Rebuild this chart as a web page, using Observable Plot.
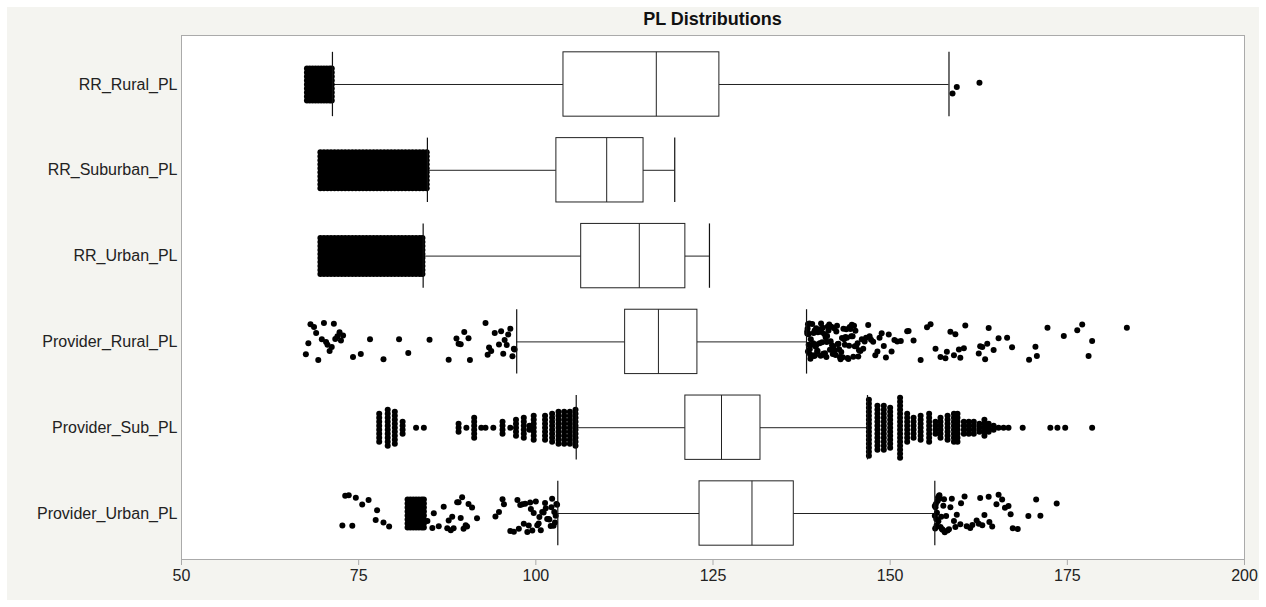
<!DOCTYPE html>
<html><head><meta charset="utf-8">
<script src="https://cdn.jsdelivr.net/npm/d3@7"></script>
<script src="https://cdn.jsdelivr.net/npm/@observablehq/plot@0.6"></script>
<style>
html,body{margin:0;padding:0;background:#fff;width:1266px;height:607px;overflow:hidden;}
#panel{position:absolute;left:7px;top:7px;width:1252px;height:593px;background:#f4f4f0;}
#title{position:absolute;left:181px;top:8px;width:1063px;text-align:center;font:bold 18px "Liberation Sans",Arial,sans-serif;line-height:22px;color:#111;}
#chart{position:absolute;left:0;top:29px;}
</style></head><body>
<div id="panel"></div>
<div id="title">PL Distributions</div>
<div id="chart"></div>
<script>
const categories = ["RR_Rural_PL","RR_Suburban_PL","RR_Urban_PL","Provider_Rural_PL","Provider_Sub_PL","Provider_Urban_PL"];
const lowerWhisker = [71.3, 84.7, 84.1, 97.3, 105.7, 103.1];
const q1 =          [103.9, 102.9, 106.4, 112.6, 121.1, 123.1];
const median =      [117.0, 110.0, 114.6, 117.3, 126.2, 130.5];
const q3 =          [125.9, 115.2, 121.1, 122.8, 131.7, 136.4];
const upperWhisker =[158.3, 119.6, 124.5, 138.2, 146.8, 156.3];
const xTicks = [50, 75, 100, 125, 150, 175, 200];

// stacked outliers: [value, count]
const rrRuralStack = [[67.7,9],[68.1,9],[68.5,9],[68.9,9],[69.3,9],[69.7,9],[70.1,9],[70.5,9],[70.9,9],[71.2,9]];
const rrSuburbanStack = [[69.6,10],[70.1,10],[70.6,10],[71.1,10],[71.6,10],[72.1,10],[72.6,10],[73.1,10],[73.6,10],[74.1,10],[74.6,10],[75.1,10],[75.6,10],[76.1,10],[76.6,10],[77.1,10],[77.6,10],[78.1,10],[78.6,10],[79.1,10],[79.6,10],[80.1,10],[80.6,10],[81.1,10],[81.6,10],[82.1,10],[82.6,10],[83.1,10],[83.6,10],[84.1,10],[84.6,10]];
const rrUrbanStack = [[69.6,10],[70.1,10],[70.6,10],[71.1,10],[71.6,10],[72.1,10],[72.6,10],[73.1,10],[73.6,10],[74.1,10],[74.6,10],[75.1,10],[75.6,10],[76.1,10],[76.6,10],[77.1,10],[77.6,10],[78.1,10],[78.6,10],[79.1,10],[79.6,10],[80.1,10],[80.6,10],[81.1,10],[81.6,10],[82.1,10],[82.6,10],[83.1,10],[83.6,10],[84.0,10]];
const providerSubStack = [[77.9,8],[79.1,10],[80.1,9],[81.2,4],[83.1,1],[84.2,1],[89.1,3],[90.2,1],[91.3,6],[92.3,1],[92.9,1],[94.0,1],[95.3,4],[96.4,1],[97.2,5],[98.3,6],[99.1,2],[99.7,7],[101.3,7],[102.3,8],[103.2,9],[104.0,9],[104.8,9],[105.6,10],
  [147.0,15],[148.2,12],[149.1,12],[150.0,11],[151.4,16],[152.4,8],[153.3,6],[154.3,7],[155.5,8],[156.4,4],[157.1,6],[158.1,7],[159.0,8],[159.5,8],[160.4,4],[161.1,4],[161.8,4],[162.6,3],[163.3,5],[163.9,3],[164.6,2],[165.3,1],[166.0,1],[166.7,1],[168.7,1],[172.6,1],[173.6,1],[174.7,1],[178.5,1]];
const providerUrbanStack = [[81.9,8],[82.3,8],[82.7,8],[83.1,8],[83.5,8],[83.9,8],[84.2,8]];

// scattered outliers: values
const rrRuralScatter = [158.8, 159.4, 162.6];
const providerRuralScatter = [67.55,67.9,68.2,68.7,69.0,69.3,69.8,70.1,70.4,70.6,70.9,71.2,71.5,71.7,72.0,72.3,72.5,72.8,74.2,75.3,76.6,78.5,80.7,82.0,85.0,87.7,88.8,89.1,89.4,89.9,90.5,90.7,92.9,93.2,93.4,93.7,94.2,94.8,95.1,95.4,95.6,95.9,96.1,96.4,96.7,96.9,97.0,
  138.3,138.3,138.35,138.4,138.4,138.45,138.5,138.5,138.6,138.65,138.7,138.75,138.8,138.9,139.0,139.05,139.1,139.15,139.2,139.3,139.35,139.4,139.5,139.55,139.6,139.7,139.75,139.8,139.9,140.0,140.05,140.1,140.2,140.25,140.3,140.4,140.5,140.55,140.6,140.7,140.8,140.9,141.0,141.05,141.1,141.2,141.3,141.4,141.5,141.6,141.7,141.8,141.9,142.0,142.1,142.2,142.3,142.4,142.5,142.6,142.7,142.8,142.9,143.0,143.1,143.2,143.3,143.4,143.5,143.6,143.7,143.8,143.9,144.0,144.1,144.2,144.3,144.4,144.5,144.6,144.7,144.8,144.9,145.0,145.1,145.2,145.4,145.5,145.6,145.8,146.0,146.2,146.4,146.6,146.9,147.1,147.3,147.6,147.9,148.2,148.5,148.8,149.1,149.4,149.8,150.2,150.6,151.0,151.5,
  152.4,152.6,153.3,154.3,155.2,155.7,156.4,157.1,157.8,158.0,158.5,159.0,159.2,159.7,159.9,160.4,160.6,162.5,162.7,163.0,163.4,163.7,163.9,164.6,165.3,166.5,167.2,169.6,170.5,170.7,172.2,174.5,176.4,177.1,178.0,178.5,183.4];
const providerUrbanScatter = [72.7,73.1,73.6,74.1,74.6,75.5,76.4,77.4,77.6,78.5,79.3,
  84.7,85.4,85.6,86.3,87.0,87.5,87.7,88.0,88.2,88.4,88.9,89.1,89.4,89.6,89.8,90.1,90.3,90.5,91.0,91.7,
  94.3,94.8,95.3,95.5,96.4,96.9,97.4,97.6,97.8,98.1,98.3,98.5,98.8,99.0,99.2,99.3,99.5,99.7,100.0,100.2,100.4,100.5,100.7,100.9,101.1,101.3,101.4,101.6,101.8,101.9,102.1,102.2,102.3,102.5,102.6,102.7,102.8,102.9,103.0,
  156.3,156.3,156.35,156.4,156.45,156.5,156.55,156.6,156.7,156.75,156.8,156.9,156.95,157.0,157.1,157.2,157.3,157.4,157.5,157.6,157.7,157.9,158.1,158.3,158.5,158.7,
  159.0,159.2,159.4,159.9,160.0,160.5,160.8,161.3,161.6,162.2,162.5,162.7,163.0,163.3,163.9,164.0,164.4,165.0,165.3,165.8,166.2,166.7,167.0,167.3,168.0,169.5,170.6,171.2,173.5];

const stackGroups = [rrRuralStack, rrSuburbanStack, rrUrbanStack, [], providerSubStack, providerUrbanStack];
const scatterGroups = [rrRuralScatter, [], [], providerRuralScatter, [], providerUrbanScatter];

// layout
const W = 1266, H = 578, mTop = 6, mBottom = 48, mLeft = 181, mRight = 22;
const yDomain = [5.536, -0.571];
const unitsPerPx = (yDomain[0] - yDomain[1]) / (H - mTop - mBottom);
const boxHalf = 0.375;
const stackGapPx = 4, scatterHalfPx = 19;

// deterministic display jitter (position only, not data)
const hash = (a, b) => { const s = Math.sin(a * 12.9898 + b * 78.233) * 43758.5453; return s - Math.floor(s); };

const boxes = categories.map((c, i) => ({i, lo: lowerWhisker[i], q1: q1[i], med: median[i], q3: q3[i], hi: upperWhisker[i]}));

const points = [];
stackGroups.forEach((grp, i) => {
  grp.forEach(([v, n]) => {
    for (let k = 0; k < n; k++) {
      points.push({v, y: i + (k - (n - 1) / 2) * stackGapPx * unitsPerPx});
    }
  });
});
scatterGroups.forEach((grp, i) => {
  grp.forEach((v, j) => {
    const f = hash(j + 1, i + 1) - 0.5;
    points.push({v, y: i + f * 2 * scatterHalfPx * unitsPerPx});
  });
});

const chart = Plot.plot({
  width: W, height: H,
  marginTop: mTop, marginBottom: mBottom, marginLeft: mLeft, marginRight: mRight,
  style: {background: "transparent", fontFamily: "'Liberation Sans', Arial, sans-serif", fontSize: "16px", color: "#222"},
  x: {domain: [50, 200]},
  y: {domain: yDomain},
  marks: [
    Plot.frame({fill: "white", stroke: null}),
    Plot.ruleY(boxes, {y: "i", x1: "lo", x2: "q1", stroke: "#222", strokeWidth: 1}),
    Plot.ruleY(boxes, {y: "i", x1: "q3", x2: "hi", stroke: "#222", strokeWidth: 1}),
    Plot.rect(boxes, {x1: "q1", x2: "q3", y1: d => d.i - boxHalf, y2: d => d.i + boxHalf, fill: "white", stroke: "#222", strokeWidth: 1}),
    Plot.ruleX(boxes, {x: "med", y1: d => d.i - boxHalf, y2: d => d.i + boxHalf, stroke: "#222", strokeWidth: 1}),
    Plot.dot(points, {x: "v", y: "y", r: 3, fill: "black", stroke: null}),
    Plot.ruleX(boxes, {x: "lo", y1: d => d.i - boxHalf, y2: d => d.i + boxHalf, stroke: "#111", strokeWidth: 1.2}),
    Plot.ruleX(boxes, {x: "hi", y1: d => d.i - boxHalf, y2: d => d.i + boxHalf, stroke: "#111", strokeWidth: 1.2}),
    Plot.frame({stroke: "#aaa", strokeWidth: 1}),
    Plot.axisX({ticks: xTicks, tickSize: 6, tickPadding: 4, stroke: "#aaa", fill: "#222", fontSize: 16, tickFormat: d => String(d)}),
    Plot.axisY({ticks: [0,1,2,3,4,5], tickFormat: i => categories[i], tickSize: 0, tickPadding: 4, fill: "#222", fontSize: 16})
  ]
});
document.getElementById("chart").appendChild(chart);
</script>
</body></html>
